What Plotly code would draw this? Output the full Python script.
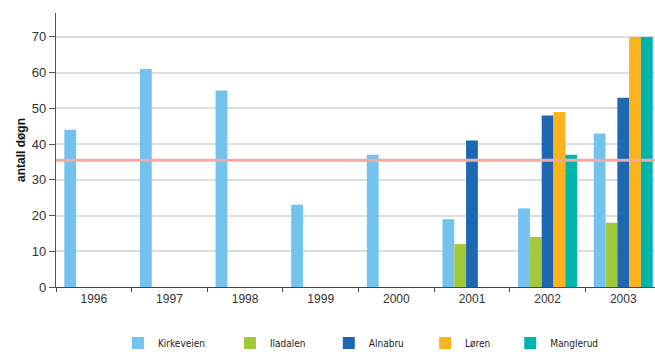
import plotly.graph_objects as go

years = ["1996", "1997", "1998", "1999", "2000", "2001", "2002", "2003"]

kirkeveien = [44, 61, 55, 23, 37, 19, 22, 43]
iladalen = [None, None, None, None, None, 12, 14, 18]
alnabru = [None, None, None, None, None, 41, 48, 53]
loren = [None, None, None, None, None, None, 49, 70]
manglerud = [None, None, None, None, None, None, 37, 70]

limit_days = 35.5

series = [
    ("Kirkeveien", kirkeveien, "#74C3EE"),
    ("Iladalen", iladalen, "#A2C83B"),
    ("Alnabru", alnabru, "#1E68B3"),
    ("Løren", loren, "#FBB31D"),
    ("Manglerud", manglerud, "#00B4AE"),
]

# each series gets its own legend box so the entries can be spaced freely
legend_ids = ["legend", "legend2", "legend3", "legend4", "legend5"]
legend_x = [0.180, 0.351, 0.502, 0.649, 0.779]

fig = go.Figure()
for (name, vals, color), lid in zip(series, legend_ids):
    fig.add_trace(go.Bar(
        x=years, y=vals, name=name, legend=lid,
        marker=dict(color=color, line=dict(width=0)),
    ))

# limit line across the whole plot area
fig.add_shape(
    type="line", xref="paper", yref="y",
    x0=0, x1=1, y0=limit_days, y1=limit_days,
    line=dict(color="#F6A9A3", width=3),
    layer="above",
)

legend_font = dict(family="Liberation Sans Narrow, Arial Narrow, DejaVu Sans Condensed, sans-serif",
                   size=10, color="#222222")
legends = {}
for lid, lx in zip(legend_ids, legend_x):
    legends[lid] = dict(
        orientation="h", xref="container", yref="container",
        x=lx, xanchor="left", y=0.031, yanchor="middle",
        font=legend_font, itemwidth=30, bgcolor="rgba(0,0,0,0)",
    )

fig.update_layout(
    width=655, height=354,
    margin=dict(l=56, r=0, t=13, b=67),
    paper_bgcolor="white", plot_bgcolor="white",
    barmode="group", bargap=0.22, bargroupgap=0,
    font=dict(family="Liberation Sans Narrow, Arial Narrow, Liberation Sans, sans-serif",
              size=11, color="#333333"),
    showlegend=True,
    xaxis=dict(
        type="category", range=[-0.5, 7.42],
        showgrid=False, showline=True, linecolor="#444444", linewidth=1.3,
        ticks="outside", tickson="boundaries", ticklen=4, tickcolor="#444444",
        tickfont=dict(size=12, color="#333333"),
    ),
    yaxis=dict(
        range=[0, 76.7], tickvals=[0, 10, 20, 30, 40, 50, 60, 70],
        showgrid=True, gridcolor="#DCDFE2", gridwidth=1.5,
        zeroline=False,
        showline=True, linecolor="#555555", linewidth=1.3,
        ticks="outside", ticklen=6, tickcolor="#555555",
        tickfont=dict(size=13, color="#333333"),
        title=dict(text="<b>antall døgn</b>",
                   font=dict(family="Liberation Sans, Arial, sans-serif", size=12, color="#111111"),
                   standoff=3),
    ),
    **legends,
)

fig.write_html("out.html")
